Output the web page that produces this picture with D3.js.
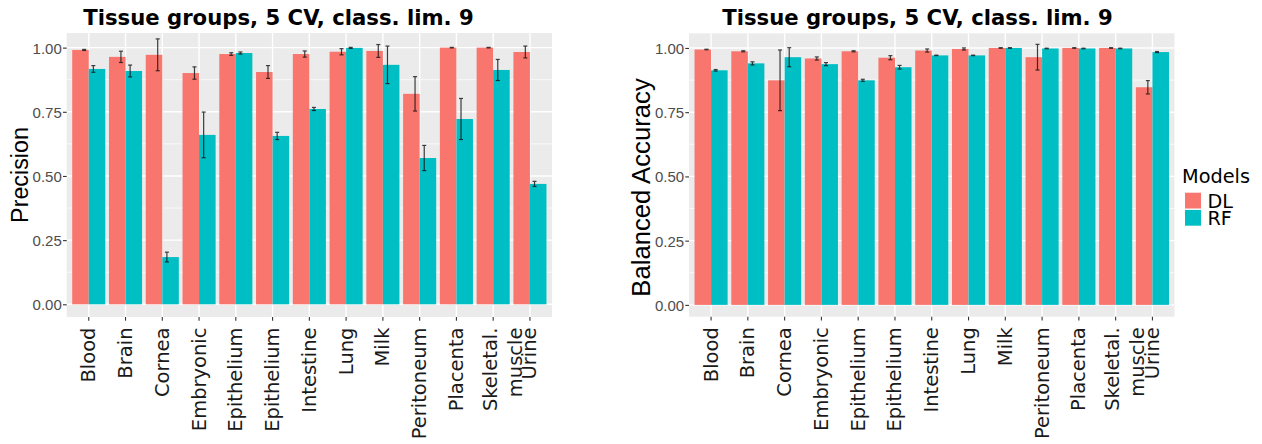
<!DOCTYPE html>
<html>
<head>
<meta charset="utf-8">
<script src="https://cdnjs.cloudflare.com/ajax/libs/d3/7.8.5/d3.min.js"></script>
<style>
  body { margin: 0; background: #ffffff; }
</style>
</head>
<body>
<div id="chart"></div>
<script>
// categories (the two "Epithelium" groups are separate categories)
const tissues = ["Blood", "Brain", "Cornea", "Embryonic", "Epithelium", "Epithelium",
    "Intestine", "Lung", "Milk", "Peritoneum", "Placenta", "Skeletal.\nmuscle", "Urine"];
const models = ["DL", "RF"];

// precision, mean and error half-width per tissue
const precisionDL   = [0.991, 0.964, 0.972, 0.901, 0.975, 0.905, 0.975, 0.984, 0.987, 0.820, 1.000, 1.000, 0.983];
const precisionDLsd = [0.002, 0.022, 0.062, 0.024, 0.005, 0.025, 0.012, 0.012, 0.025, 0.067, 0.001, 0.001, 0.023];
const precisionRF   = [0.917, 0.909, 0.184, 0.660, 0.979, 0.656, 0.761, 0.999, 0.933, 0.570, 0.722, 0.913, 0.469];
const precisionRFsd = [0.013, 0.023, 0.019, 0.089, 0.004, 0.014, 0.006, 0.002, 0.073, 0.049, 0.080, 0.041, 0.010];

// balanced accuracy, mean and error half-width per tissue
const balAccDL   = [0.994, 0.987, 0.874, 0.959, 0.987, 0.962, 0.990, 0.996, 1.000, 0.964, 1.000, 1.000, 0.847];
const balAccDLsd = [0.001, 0.002, 0.118, 0.006, 0.002, 0.008, 0.006, 0.004, 0.001, 0.050, 0.001, 0.001, 0.026];
const balAccRF   = [0.913, 0.940, 0.964, 0.937, 0.874, 0.925, 0.971, 0.971, 1.000, 0.998, 0.998, 0.998, 0.984];
const balAccRFsd = [0.003, 0.006, 0.037, 0.006, 0.004, 0.007, 0.001, 0.001, 0.001, 0.001, 0.001, 0.001, 0.002];

const yTicks = [0, 0.25, 0.5, 0.75, 1];
const yMinor = [0.125, 0.375, 0.625, 0.875];
const yTickLabels = ["0.00", "0.25", "0.50", "0.75", "1.00"];
const chartTitle = "Tissue groups, 5 CV, class. lim. 9";

const colors = d3.scaleOrdinal().domain(models).range(["#F8766D", "#00BFC4"]);

const svg = d3.select("#chart")
  .append("svg")
    .attr("width", 1262)
    .attr("height", 444);

function drawPanel(cfg) {
    const g = svg.append("g");

    var x = d3.scaleBand()
        .domain(d3.range(tissues.length))
        .range([cfg.left, cfg.right])
        .paddingInner(0)
        .paddingOuter(0.1);
    var x1 = d3.scaleBand()
        .domain(models)
        .range([0, x.bandwidth()])
        .paddingOuter(1 / 9);
    var y = d3.scaleLinear()
        .domain(cfg.yDomain)
        .range([cfg.bottom, cfg.top]);

    // panel background + grid
    g.append("rect")
        .attr("x", cfg.left).attr("y", cfg.top)
        .attr("width", cfg.right - cfg.left)
        .attr("height", cfg.bottom - cfg.top)
        .attr("fill", "#EBEBEB");

    g.selectAll(".minor")
        .data(yMinor)
        .enter().append("line")
        .attr("x1", cfg.left).attr("x2", cfg.right)
        .attr("y1", d => y(d)).attr("y2", d => y(d))
        .attr("stroke", "#ffffff").attr("stroke-width", 0.7);
    g.selectAll(".major")
        .data(yTicks)
        .enter().append("line")
        .attr("x1", cfg.left).attr("x2", cfg.right)
        .attr("y1", d => y(d)).attr("y2", d => y(d))
        .attr("stroke", "#ffffff").attr("stroke-width", 1.4);
    g.selectAll(".vgrid")
        .data(x.domain())
        .enter().append("line")
        .attr("x1", d => x(d) + x.bandwidth() / 2)
        .attr("x2", d => x(d) + x.bandwidth() / 2)
        .attr("y1", cfg.top).attr("y2", cfg.bottom)
        .attr("stroke", "#ffffff").attr("stroke-width", 1.4);

    // bars
    var rows = tissues.map(function(t, i) {
        return [
            {i: i, model: "DL", value: cfg.dl[i], err: cfg.dlSd[i]},
            {i: i, model: "RF", value: cfg.rf[i], err: cfg.rfSd[i]}
        ];
    });
    var flat = rows.flat();

    g.selectAll(".bar")
        .data(flat)
        .enter().append("rect")
        .attr("x", d => x(d.i) + x1(d.model))
        .attr("width", x1.bandwidth())
        .attr("y", d => y(d.value))
        .attr("height", d => y(0) - y(d.value))
        .attr("fill", d => colors(d.model));

    // error bars (dodged narrower than the bars)
    var errX = d => x(d.i) + x.bandwidth() / 2 + (d.model === "DL" ? -1 : 1) * 0.125 * x.step();
    var cap = 2;
    var eb = g.selectAll(".err")
        .data(flat)
        .enter().append("g")
        .attr("stroke", "#111111")
        .attr("stroke-width", 1.2)
        .attr("opacity", 0.8);
    eb.append("line")
        .attr("x1", errX).attr("x2", errX)
        .attr("y1", d => y(d.value - d.err)).attr("y2", d => y(d.value + d.err));
    eb.append("line")
        .attr("x1", d => errX(d) - cap).attr("x2", d => errX(d) + cap)
        .attr("y1", d => y(d.value + d.err)).attr("y2", d => y(d.value + d.err));
    eb.append("line")
        .attr("x1", d => errX(d) - cap).attr("x2", d => errX(d) + cap)
        .attr("y1", d => y(d.value - d.err)).attr("y2", d => y(d.value - d.err));

    // y axis
    var yAxis = g.append("g")
        .attr("transform", "translate(" + cfg.left + ",0)")
        .call(d3.axisLeft(y).tickValues(yTicks).tickSize(3.7).tickPadding(1.2)
            .tickFormat((d, i) => yTickLabels[i]));
    yAxis.select(".domain").remove();
    yAxis.selectAll("line").attr("stroke", "#333333").attr("stroke-width", 1.1);
    yAxis.selectAll("text")
        .attr("fill", "#4D4D4D")
        .style("font", "15px 'Liberation Sans', Arial, sans-serif")
        .attr("dy", "0.36em");

    // x axis
    var xAxis = g.append("g")
        .attr("transform", "translate(0," + cfg.bottom + ")")
        .call(d3.axisBottom(x).tickSize(3.7).tickFormat(""));
    xAxis.select(".domain").remove();
    xAxis.selectAll("line").attr("stroke", "#333333").attr("stroke-width", 1.1);

    var labels = g.selectAll(".xlab")
        .data(x.domain())
        .enter().append("text")
        .attr("transform", d => "translate(" + (x(d) + x.bandwidth() / 2) + "," + (cfg.bottom + 10.5) + ")rotate(-90)")
        .attr("text-anchor", "end")
        .attr("fill", "#1A1A1A")
        .style("font", "19.5px 'DejaVu Sans', sans-serif");
    labels.each(function(d) {
        var parts = tissues[d].split("\n");
        var el = d3.select(this);
        if (parts.length === 1) {
            el.append("tspan").attr("x", 0).attr("y", 6.5).text(parts[0]);
        } else {
            parts.forEach(function(p, k) {
                el.append("tspan").attr("x", 0).attr("y", 3.5 + k * 25).text(p);
            });
        }
    });

    // y title
    g.append("text")
        .attr("transform", "translate(" + cfg.yTitleX + "," + cfg.yTitleY + ")rotate(-90)")
        .attr("text-anchor", "middle")
        .attr("fill", "#000000")
        .style("font", cfg.yTitleSize + "px 'Liberation Sans', Arial, sans-serif")
        .text(cfg.yTitle);

    // title
    g.append("text")
        .attr("x", cfg.titleX).attr("y", 25.3)
        .attr("text-anchor", "middle")
        .attr("fill", "#000000")
        .style("font", "bold 21.2px 'DejaVu Sans', sans-serif")
        .text(chartTitle);
}

drawPanel({
    left: 66.7, right: 552, top: 33, bottom: 317,
    yDomain: [-0.0495, 1.057],
    dl: precisionDL, dlSd: precisionDLsd, rf: precisionRF, rfSd: precisionRFsd,
    yTitle: "Precision", yTitleX: 27.5, yTitleY: 175, yTitleSize: 23.3,
    titleX: 278.5
});

drawPanel({
    left: 689, right: 1174.5, top: 33.3, bottom: 316.7,
    yDomain: [-0.046, 1.057],
    dl: balAccDL, dlSd: balAccDLsd, rf: balAccRF, rfSd: balAccRFsd,
    yTitle: "Balanced Accuracy", yTitleX: 650, yTitleY: 187.5, yTitleSize: 25.7,
    titleX: 917.5
});

// legend
var legend = svg.append("g");
legend.append("text")
    .attr("x", 1182).attr("y", 183.3)
    .attr("fill", "#000000")
    .style("font", "19.3px 'DejaVu Sans', sans-serif")
    .text("Models");
legend.selectAll(".key")
    .data(models)
    .enter().append("rect")
    .attr("x", 1185)
    .attr("y", (d, i) => 192.7 + i * 17.2)
    .attr("width", 16)
    .attr("height", 15.8)
    .attr("fill", d => colors(d));
legend.selectAll(".lab")
    .data(models)
    .enter().append("text")
    .attr("x", 1207.5)
    .attr("y", (d, i) => 208.3 + i * 17)
    .attr("fill", "#000000")
    .style("font", "19.2px 'DejaVu Sans', sans-serif")
    .text(d => d);
</script>
</body>
</html>
